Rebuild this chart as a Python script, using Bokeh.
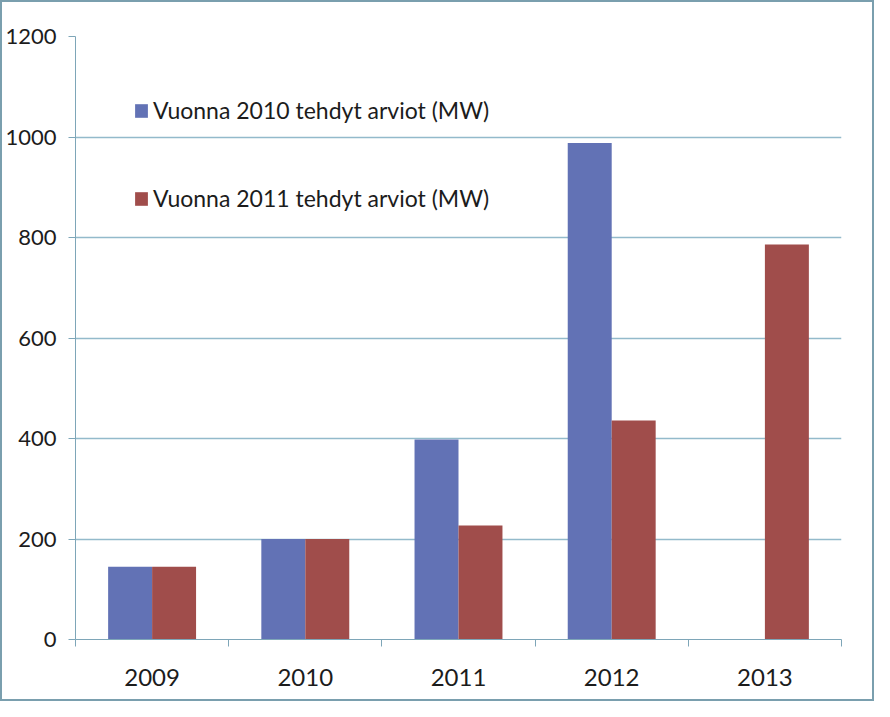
import numpy as np
from bokeh.plotting import figure
from bokeh.models import ColumnDataSource, Range1d, FixedTicker, Legend, LegendItem
from bokeh.transform import dodge
from bokeh.embed import file_html
from bokeh.resources import INLINE

years = ["2009", "2010", "2011", "2012", "2013"]
est_2010 = [145, 200, 398, 988, 0]
est_2011 = [145, 200, 227, 436, 786]
y_ticks = [0, 200, 400, 600, 800, 1000, 1200]
label_2010 = "Vuonna 2010 tehdyt arviot (MW)"
label_2011 = "Vuonna 2011 tehdyt arviot (MW)"

BLUE = "#6272B5"
RED = "#A04D4B"
GRID = "#93BACB"
AXIS = "#7EA6B8"
TEXT = "#1C1C1C"
FONT = "Lato"

pos = np.arange(len(years)) + 0.5
src = ColumnDataSource(dict(x=pos, a=est_2010, b=est_2011))

p = figure(width=874, height=701, output_backend="svg", toolbar_location=None,
           x_range=Range1d(0, len(years)), y_range=Range1d(0, 1200),
           min_border_left=60, min_border_right=35, min_border_top=34, min_border_bottom=64)
p.styles = {"border": "2px solid #7A9FAE", "box-sizing": "border-box"}
p.outline_line_color = None

bw = 0.287
r1 = p.vbar(x=dodge("x", -bw / 2, range=p.x_range), top="a", width=bw, source=src,
            fill_color=BLUE, line_color=None)
r2 = p.vbar(x=dodge("x", bw / 2, range=p.x_range), top="b", width=bw, source=src,
            fill_color=RED, line_color=None)

# y axis
p.yaxis.ticker = FixedTicker(ticks=y_ticks)
p.yaxis.axis_line_color = AXIS
p.yaxis.major_tick_line_color = AXIS
p.yaxis.major_tick_out = 7
p.yaxis.major_tick_in = 0
p.yaxis.minor_tick_line_color = None
p.yaxis.major_label_text_font = FONT
p.yaxis.major_label_text_font_size = "22px"
p.yaxis.major_label_text_color = TEXT
p.yaxis.major_label_standoff = 12

# x axis
p.xaxis.ticker = FixedTicker(ticks=list(pos), minor_ticks=list(range(len(years) + 1)))
p.xaxis.major_label_overrides = {float(x): y for x, y in zip(pos, years)}
p.xaxis.axis_line_color = AXIS
p.xaxis.major_tick_line_color = None
p.xaxis.major_tick_out = 0
p.xaxis.major_tick_in = 0
p.xaxis.minor_tick_line_color = AXIS
p.xaxis.minor_tick_out = 7
p.xaxis.minor_tick_in = 0
p.xaxis.major_label_text_font = FONT
p.xaxis.major_label_text_font_size = "24px"
p.xaxis.major_label_text_color = TEXT
p.xaxis.major_label_standoff = 22

p.xgrid.grid_line_color = None
p.ygrid.grid_line_color = GRID
p.ygrid.grid_line_width = 1.5

legend = Legend(items=[LegendItem(label=label_2010, renderers=[r1]),
                       LegendItem(label=label_2011, renderers=[r2])],
                location=(48, 417), orientation="vertical")
legend.background_fill_alpha = 0
legend.border_line_alpha = 0
legend.glyph_width = 16
legend.glyph_height = 17
legend.label_standoff = 4
legend.spacing = 60
legend.label_text_font = FONT
legend.label_text_font_size = "23px"
legend.label_text_color = TEXT
p.add_layout(legend, "center")

open("out.html", "w").write(file_html(p, INLINE))
